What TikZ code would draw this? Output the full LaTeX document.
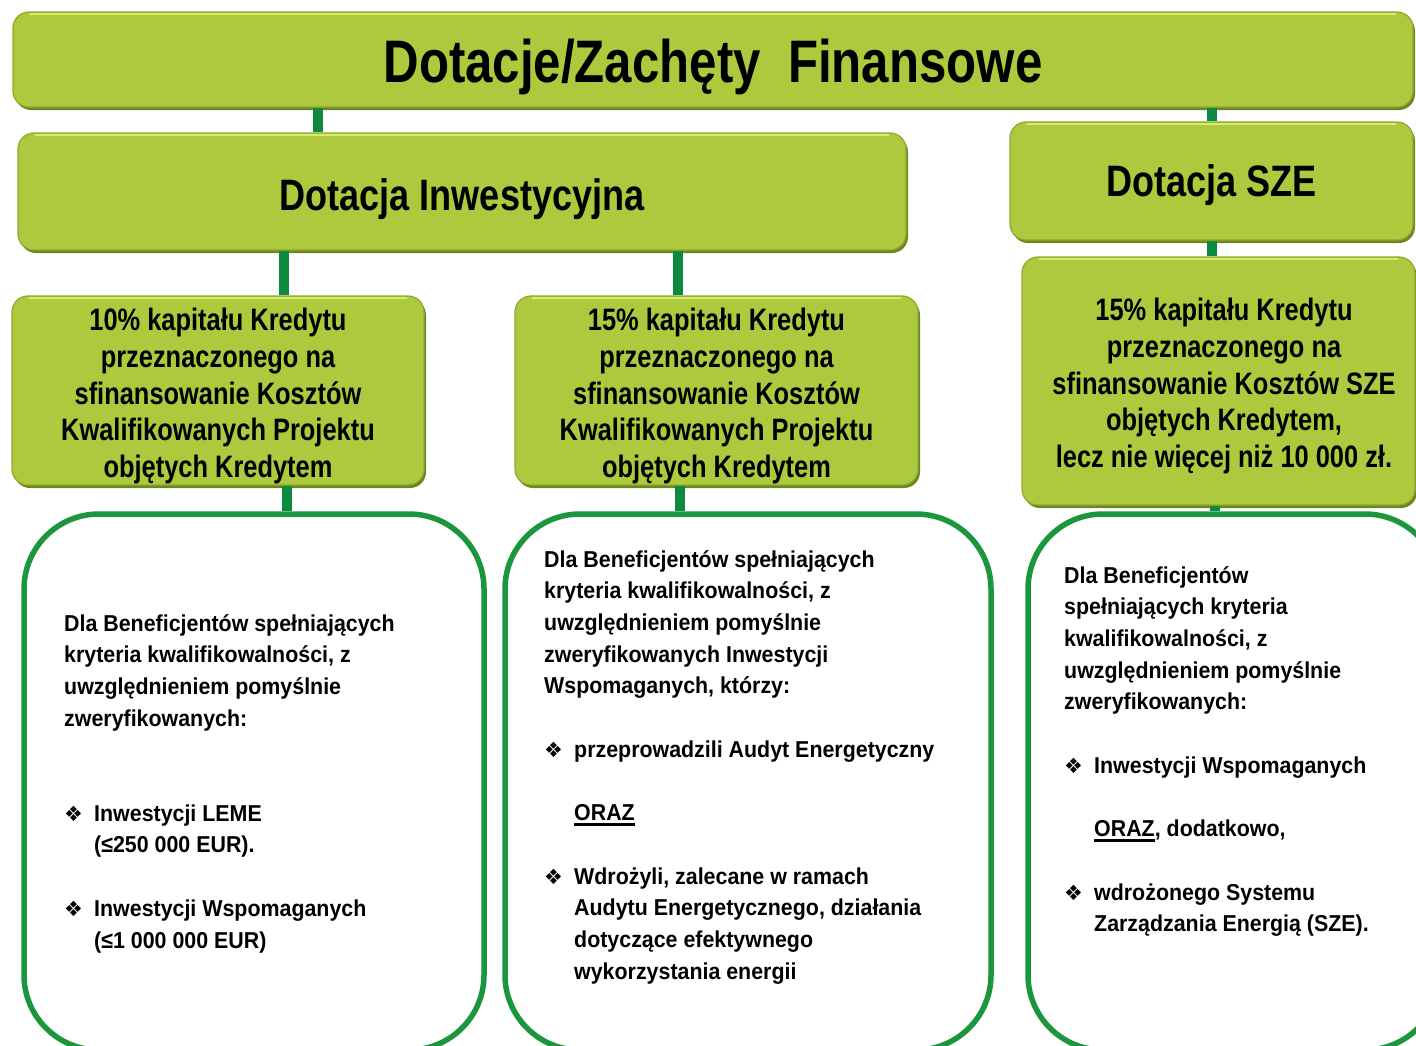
\documentclass[tikz,border=0pt]{standalone}
\usepackage{fontspec}
\newfontfamily\nar{Liberation Sans}[FakeStretch=0.82]
\newfontfamily\wid{Liberation Sans}[FakeStretch=0.93]
\newfontfamily\dv{DejaVu Sans}
\usetikzlibrary{calc}
\definecolor{lime}{HTML}{ADCA3F}
\definecolor{rim}{HTML}{8FA82E}
\definecolor{rimdark}{HTML}{6F8423}
\definecolor{hilite}{HTML}{D6EE70}
\definecolor{cgreen}{HTML}{0C8B40}
\definecolor{bgreen}{HTML}{1B963C}
\newcommand{\bul}{\makebox[30pt][l]{\raisebox{0pt}{\dv\fontsize{21}{21}\selectfont ❖}}}
\newcommand{\ind}{\hspace*{30pt}}
\newlength\ulw
\newcommand{\uln}[1]{\settowidth{\ulw}{#1}\makebox[0pt][l]{\rule[-5pt]{\ulw}{2.6pt}}#1}
\tikzset{
  limebox/.style={rectangle, rounded corners=16pt, fill=lime, draw=rim, line width=1.2pt,
    inner sep=0pt,
    preaction={fill=rimdark, draw=none, transform canvas={xshift=2pt,yshift=-3pt}}},
  boxfont/.style={font={\nar\bfseries\fontsize{31}{36.8}\selectfont}, align=center, inner sep=0pt, text=black},
  headfont/.style={font={\nar\bfseries\fontsize{#1}{#1}\selectfont}, inner sep=0pt, text=black, text depth=0pt},
  wbox/.style={rectangle, rounded corners=75pt, draw=bgreen, line width=5.5pt, fill=white, inner sep=0pt},
  conn/.style={draw=cgreen, line width=10pt},
  hl/.style={draw=hilite, line width=2pt, line cap=round},
  btext/.style={anchor=base west, inner sep=0pt, text=black},
}
\newcommand{\btxt}[1]{\parbox[t]{420pt}{\wid\bfseries\fontsize{23}{31.7}\selectfont\raggedright #1}}
\begin{document}
\begin{tikzpicture}[x=1pt,y=-1pt]
\useasboundingbox (0,0) rectangle (1416,1045);
\clip (0,0) rectangle (1416,1045);
% lime boxes
\node[limebox, minimum width=1400pt, minimum height=95pt] (top) at (713,59.5) {};
\node[limebox, minimum width=888pt, minimum height=117pt] (inw) at (462,191.5) {};
\node[limebox, minimum width=403pt, minimum height=118pt] (sze) at (1211.5,181) {};
\node[limebox, minimum width=412pt, minimum height=189pt] (box1) at (218,390.5) {};
\node[limebox, minimum width=403pt, minimum height=189pt] (box2) at (716.5,390.5) {};
\node[limebox, minimum width=393pt, minimum height=248pt] (box3) at (1218.5,381) {};
% highlights
\foreach \n in {top,inw,sze,box1,box2,box3}{
  \draw[hl] ([xshift=18pt,yshift=-3pt]\n.north west) -- ([xshift=-18pt,yshift=-3pt]\n.north east);
}
% lime box texts
\node[headfont=60, text height=44pt] (topt) at (713,60) {Dotacje/Zachęty\ \ Finansowe};
\node[headfont=44, text height=38.5pt] (inwt) at (462,191.5) {Dotacja Inwestycyjna};
\node[headfont=44, text height=31.5pt] (szet) at (1211.5,181) {Dotacja SZE};
\node[boxfont] (box1t) at (218,396)
  {10\% kapitału Kredytu\\ przeznaczonego na\\ sfinansowanie Kosztów\\ Kwalifikowanych Projektu\\ objętych Kredytem};
\node[boxfont] (box2t) at (716.5,396)
  {15\% kapitału Kredytu\\ przeznaczonego na\\ sfinansowanie Kosztów\\ Kwalifikowanych Projektu\\ objętych Kredytem};
\node[boxfont] (box3t) at (1224,386)
  {15\% kapitału Kredytu\\ przeznaczonego na\\ sfinansowanie Kosztów SZE\\ objętych Kredytem,\\ lecz nie więcej niż 10 000 zł.};
% white boxes
\node[wbox, minimum width=460pt, minimum height=536pt] (b1) at (254,782) {};
\node[wbox, minimum width=486pt, minimum height=536pt] (b2) at (748,782) {};
\node[wbox, minimum width=412pt, minimum height=536pt] (b3) at (1234,782) {};
% connectors
\draw[conn] ([xshift=-144pt]inw.north) -- ([xshift=-144pt]inw.north |- top.south);
\draw[conn] (top.south -| sze.north) -- (sze.north);
\draw[conn] ([xshift=66pt]box1.north) -- ([xshift=66pt]box1.north |- inw.south);
\draw[conn] ([xshift=-38.5pt]box2.north) -- ([xshift=-38.5pt]box2.north |- inw.south);
\draw[conn] (sze.south) -- (sze.south |- box3.north);
\draw[conn] ([xshift=33pt]b1.north) -- ([xshift=33pt]b1.north |- box1.south);
\draw[conn] ([xshift=-68pt]b2.north) -- ([xshift=-68pt]b2.north |- box2.south);
\draw[conn] ([xshift=-19pt]b3.north) -- ([xshift=-19pt]b3.north |- box3.south);
% texts
\node[btext] (t1) at (64,631) {\btxt{%
Dla Beneficjentów spełniających\\
kryteria kwalifikowalności, z\\
uwzględnieniem pomyślnie\\
zweryfikowanych:\\[63.4pt]
\bul Inwestycji LEME\\
\ind(≤250 000 EUR).\\[31.7pt]
\bul Inwestycji Wspomaganych\\
\ind(≤1 000 000 EUR)}};
\node[btext] (t2) at (544,567) {\btxt{%
Dla Beneficjentów spełniających\\
kryteria kwalifikowalności, z\\
uwzględnieniem pomyślnie\\
zweryfikowanych Inwestycji\\
Wspomaganych, którzy:\\[31.7pt]
\bul przeprowadzili Audyt Energetyczny\\[31.7pt]
\ind\uln{ORAZ}\\[31.7pt]
\bul Wdrożyli, zalecane w ramach\\
\ind Audytu Energetycznego, działania\\
\ind dotyczące efektywnego\\
\ind wykorzystania energii}};
\node[btext] (t3) at (1064,583) {\btxt{%
Dla Beneficjentów\\
spełniających kryteria\\
kwalifikowalności, z\\
uwzględnieniem pomyślnie\\
zweryfikowanych:\\[31.7pt]
\bul Inwestycji Wspomaganych\\[31.7pt]
\ind\uln{ORAZ}, dodatkowo,\\[31.7pt]
\bul wdrożonego Systemu\\
\ind Zarządzania Energią (SZE).}};
\end{tikzpicture}
\end{document}
